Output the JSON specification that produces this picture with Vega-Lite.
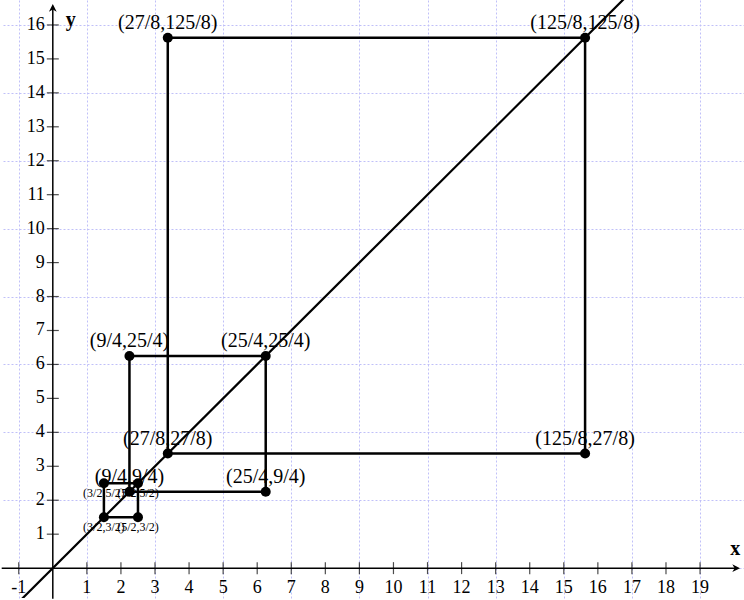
{
  "$schema": "https://vega.github.io/schema/vega-lite/v6.json",
  "width": 744,
  "height": 600,
  "padding": 0,
  "autosize": {"type": "fit", "contains": "padding"},
  "background": "white",
  "config": {"view": {"stroke": null}, "text": {"font": "Times New Roman, Liberation Serif, DejaVu Serif, serif"}},
  "datasets": {
    "points": [
      {"x": 1.5, "y": 1.5, "label": "(3/2,3/2)", "tier": "small"},
      {"x": 1.5, "y": 2.5, "label": "(3/2,5/2)", "tier": "small"},
      {"x": 2.5, "y": 1.5, "label": "(5/2,3/2)", "tier": "small"},
      {"x": 2.5, "y": 2.5, "label": "(5/2,5/2)", "tier": "small"},
      {"x": 2.25, "y": 2.25, "label": "(9/4,9/4)", "tier": "big"},
      {"x": 2.25, "y": 6.25, "label": "(9/4,25/4)", "tier": "big"},
      {"x": 6.25, "y": 2.25, "label": "(25/4,9/4)", "tier": "big"},
      {"x": 6.25, "y": 6.25, "label": "(25/4,25/4)", "tier": "big"},
      {"x": 3.375, "y": 3.375, "label": "(27/8,27/8)", "tier": "big"},
      {"x": 3.375, "y": 15.625, "label": "(27/8,125/8)", "tier": "big"},
      {"x": 15.625, "y": 3.375, "label": "(125/8,27/8)", "tier": "big"},
      {"x": 15.625, "y": 15.625, "label": "(125/8,125/8)", "tier": "big"}
    ],
    "paths": [
      {"sq": "A", "o": 0, "x": 1.5, "y": 1.5},
      {"sq": "A", "o": 1, "x": 1.5, "y": 2.5},
      {"sq": "A", "o": 2, "x": 2.5, "y": 2.5},
      {"sq": "A", "o": 3, "x": 2.5, "y": 1.5},
      {"sq": "A", "o": 4, "x": 1.5, "y": 1.5},
      {"sq": "B", "o": 0, "x": 2.25, "y": 2.25},
      {"sq": "B", "o": 1, "x": 2.25, "y": 6.25},
      {"sq": "B", "o": 2, "x": 6.25, "y": 6.25},
      {"sq": "B", "o": 3, "x": 6.25, "y": 2.25},
      {"sq": "B", "o": 4, "x": 2.25, "y": 2.25},
      {"sq": "C", "o": 0, "x": 3.375, "y": 3.375},
      {"sq": "C", "o": 1, "x": 3.375, "y": 15.625},
      {"sq": "C", "o": 2, "x": 15.625, "y": 15.625},
      {"sq": "C", "o": 3, "x": 15.625, "y": 3.375},
      {"sq": "C", "o": 4, "x": 3.375, "y": 3.375}
    ],
    "diag": [{"x": -2, "y": -2}, {"x": 21, "y": 21}],
    "xticks": [
      {"v": -1, "t": "-1"}, {"v": 1, "t": "1"}, {"v": 2, "t": "2"}, {"v": 3, "t": "3"}, {"v": 4, "t": "4"},
      {"v": 5, "t": "5"}, {"v": 6, "t": "6"}, {"v": 7, "t": "7"}, {"v": 8, "t": "8"}, {"v": 9, "t": "9"},
      {"v": 10, "t": "10"}, {"v": 11, "t": "11"}, {"v": 12, "t": "12"}, {"v": 13, "t": "13"}, {"v": 14, "t": "14"},
      {"v": 15, "t": "15"}, {"v": 16, "t": "16"}, {"v": 17, "t": "17"}, {"v": 18, "t": "18"}, {"v": 19, "t": "19"}
    ],
    "yticks": [
      {"v": 1, "t": "1"}, {"v": 2, "t": "2"}, {"v": 3, "t": "3"}, {"v": 4, "t": "4"},
      {"v": 5, "t": "5"}, {"v": 6, "t": "6"}, {"v": 7, "t": "7"}, {"v": 8, "t": "8"}, {"v": 9, "t": "9"},
      {"v": 10, "t": "10"}, {"v": 11, "t": "11"}, {"v": 12, "t": "12"}, {"v": 13, "t": "13"}, {"v": 14, "t": "14"},
      {"v": 15, "t": "15"}, {"v": 16, "t": "16"}
    ]
  },
  "layer": [
    {
      "data": {"name": "diag"},
      "mark": {"type": "line", "color": "black", "strokeWidth": 2.2, "clip": true},
      "encoding": {
        "x": {
          "field": "x", "type": "quantitative",
          "scale": {"domain": [-1.462, 20.29], "nice": false, "zero": false},
          "axis": {
            "grid": true, "labels": false, "ticks": false, "domain": false, "title": null,
            "values": [-1, 0, 1, 2, 3, 4, 5, 6, 7, 8, 9, 10, 11, 12, 13, 14, 15, 16, 17, 18, 19, 20],
            "gridColor": "#c0c0f8", "gridDash": [2, 2], "gridWidth": 1, "gridOpacity": 1
          }
        },
        "y": {
          "field": "y", "type": "quantitative",
          "scale": {"domain": [-0.88, 16.735], "nice": false, "zero": false},
          "axis": {
            "grid": true, "labels": false, "ticks": false, "domain": false, "title": null,
            "values": [0, 1, 2, 3, 4, 5, 6, 7, 8, 9, 10, 11, 12, 13, 14, 15, 16],
            "gridColor": "#c0c0f8", "gridDash": [2, 2], "gridWidth": 1, "gridOpacity": 1
          }
        }
      }
    },
    {
      "data": {"values": [{"a": 1}]},
      "mark": {"type": "rule", "color": "black", "strokeWidth": 1.5},
      "encoding": {
        "x": {"datum": -1.5, "type": "quantitative"},
        "x2": {"datum": 20.1},
        "y": {"datum": 0, "type": "quantitative"}
      }
    },
    {
      "data": {"values": [{"a": 1}]},
      "mark": {"type": "rule", "color": "black", "strokeWidth": 1.5},
      "encoding": {
        "y": {"datum": -0.9, "type": "quantitative"},
        "y2": {"datum": 16.55},
        "x": {"datum": 0, "type": "quantitative"}
      }
    },
    {
      "data": {"values": [{"a": 1}]},
      "mark": {"type": "point", "filled": true, "color": "black", "opacity": 1, "size": 60, "shape": "M-1,-1L1,0L-1,1L-0.4,0Z"},
      "encoding": {
        "x": {"datum": 20.06, "type": "quantitative"},
        "y": {"datum": 0, "type": "quantitative"}
      }
    },
    {
      "data": {"values": [{"a": 1}]},
      "mark": {"type": "point", "filled": true, "color": "black", "opacity": 1, "size": 60, "shape": "M-1,1L0,-1L1,1L0,0.4Z"},
      "encoding": {
        "x": {"datum": 0, "type": "quantitative"},
        "y": {"datum": 16.5, "type": "quantitative"}
      }
    },
    {
      "data": {"name": "xticks"},
      "mark": {"type": "tick", "orient": "vertical", "color": "black", "size": 12, "thickness": 1.2},
      "encoding": {
        "x": {"field": "v", "type": "quantitative"},
        "y": {"datum": 0, "type": "quantitative"}
      }
    },
    {
      "data": {"name": "yticks"},
      "mark": {"type": "tick", "orient": "horizontal", "color": "black", "size": 12, "thickness": 1.2},
      "encoding": {
        "y": {"field": "v", "type": "quantitative"},
        "x": {"datum": 0, "type": "quantitative"}
      }
    },
    {
      "data": {"name": "xticks"},
      "mark": {"type": "text", "fontSize": 18, "baseline": "middle", "align": "center", "dy": 20, "color": "black"},
      "encoding": {
        "x": {"field": "v", "type": "quantitative"},
        "y": {"datum": 0, "type": "quantitative"},
        "text": {"field": "t"}
      }
    },
    {
      "data": {"name": "yticks"},
      "mark": {"type": "text", "fontSize": 18, "baseline": "middle", "align": "right", "dx": -8, "color": "black"},
      "encoding": {
        "y": {"field": "v", "type": "quantitative"},
        "x": {"datum": 0, "type": "quantitative"},
        "text": {"field": "t"}
      }
    },
    {
      "data": {"values": [{"a": 1}]},
      "mark": {"type": "text", "fontSize": 20, "fontWeight": "bold", "baseline": "middle", "align": "center", "color": "black", "text": "x"},
      "encoding": {
        "x": {"datum": 20.03, "type": "quantitative"},
        "y": {"datum": 0.55, "type": "quantitative"}
      }
    },
    {
      "data": {"values": [{"a": 1}]},
      "mark": {"type": "text", "fontSize": 20, "fontWeight": "bold", "baseline": "middle", "align": "center", "color": "black", "text": "y"},
      "encoding": {
        "x": {"datum": 0.53, "type": "quantitative"},
        "y": {"datum": 16.15, "type": "quantitative"}
      }
    },
    {
      "data": {"name": "paths"},
      "mark": {"type": "line", "color": "black", "strokeWidth": 2.5},
      "encoding": {
        "x": {"field": "x", "type": "quantitative"},
        "y": {"field": "y", "type": "quantitative"},
        "detail": {"field": "sq"},
        "order": {"field": "o", "type": "quantitative"}
      }
    },
    {
      "data": {"name": "points"},
      "mark": {"type": "circle", "color": "black", "opacity": 1, "size": 100},
      "encoding": {
        "x": {"field": "x", "type": "quantitative"},
        "y": {"field": "y", "type": "quantitative"}
      }
    },
    {
      "data": {"name": "points"},
      "transform": [{"filter": "datum.tier == 'big'"}],
      "mark": {"type": "text", "fontSize": 20, "baseline": "middle", "align": "center", "dy": -15, "color": "black"},
      "encoding": {
        "x": {"field": "x", "type": "quantitative"},
        "y": {"field": "y", "type": "quantitative"},
        "text": {"field": "label"}
      }
    },
    {
      "data": {"name": "points"},
      "transform": [{"filter": "datum.tier == 'small'"}],
      "mark": {"type": "text", "fontSize": 12, "baseline": "middle", "align": "center", "dy": 10, "color": "black"},
      "encoding": {
        "x": {"field": "x", "type": "quantitative"},
        "y": {"field": "y", "type": "quantitative"},
        "text": {"field": "label"}
      }
    }
  ]
}
